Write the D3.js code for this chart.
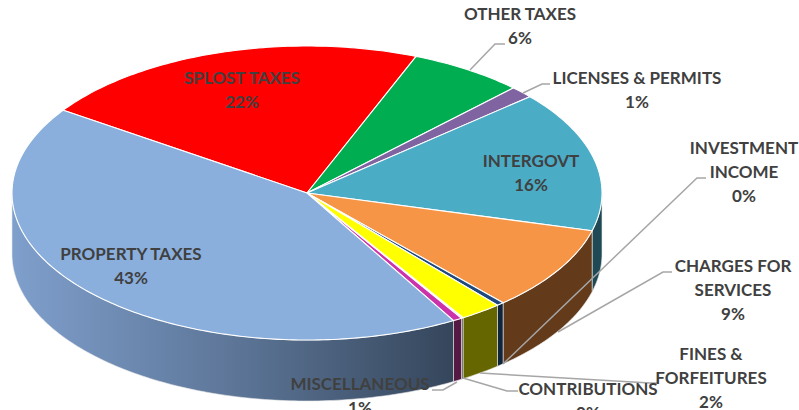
<!DOCTYPE html>
<html><head><meta charset="utf-8">
<script src="https://cdnjs.cloudflare.com/ajax/libs/d3/7.8.5/d3.min.js"></script>
<style>html,body{margin:0;padding:0;background:#fff;overflow:hidden}svg{display:block}
text{font-family:Lato,"Open Sans",sans-serif;font-weight:700;fill:#404040;font-size:17px}</style>
</head><body><svg id="c" width="799" height="410"></svg>
<script>
const categories=["SPLOST TAXES","OTHER TAXES","LICENSES & PERMITS","INTERGOVT","CHARGES FOR SERVICES","INVESTMENT INCOME","FINES & FORFEITURES","CONTRIBUTIONS","MISCELLANEOUS","PROPERTY TAXES"];
const shares=[21.5,6.3,1.3,15.5,9.3,0.4,2.3,0.1,0.5,42.8];
const percentLabels=["22%","6%","1%","16%","9%","0%","2%","0%","1%","43%"];
const topColors=["#ff0000","#00ad50","#8064a2","#4bacc6","#f69545","#1f497d","#ffff00","#7f7f7f","#cc33aa","#8aafdd"];
const sideColors=["#990000","#006830","#4d3c61","#1f4a55","#633a1a","#10243c","#666600","#555555","#551a44","url(#propSide)"];
const labelLines=[["SPLOST TAXES"],["OTHER TAXES"],["LICENSES & PERMITS"],["INTERGOVT"],["CHARGES FOR","SERVICES"],["INVESTMENT","INCOME"],["FINES &","FORFEITURES"],["CONTRIBUTIONS"],["MISCELLANEOUS"],["PROPERTY TAXES"]];
const labelCentres=[[242,91],[520,27],[637,91],[531,174],[733,291],[744,173],[711,379],[588,402],[360,397],[131,267]];
const leaders=[null,[[470,70],[495,44],[505,44]],[[523,93],[542,84],[550,84]],null,[[558,332],[663,272],[672,272]],[[503,364],[697,178],[706,178]],[[480,373],[650,383],[657,383]],[[463,378],[507,391],[518,391]],[[457,382],[443,390],[432,390]],null];

const svg=d3.select("#c");
const cx=307,cy=193,rx=295,ry=147,depth=61;
const px=d3.scaleLinear().domain([-1,1]).range([cx-rx,cx+rx]);
const py=d3.scaleLinear().domain([-1,1]).range([cy-ry,cy+ry]);
const pie=d3.pie().value(d=>d).sort(null).startAngle(-55.7*Math.PI/180).endAngle((360-55.7)*Math.PI/180);
const arcs=pie(shares);

const defs=svg.append("defs");
const g=defs.append("linearGradient").attr("id","propSide").attr("gradientUnits","userSpaceOnUse")
 .attr("x1",px(-1)).attr("x2",454).attr("y1",0).attr("y2",0);
g.append("stop").attr("offset",0).attr("stop-color","#7f9fcc");
g.append("stop").attr("offset",.5).attr("stop-color","#5d7698");
g.append("stop").attr("offset",1).attr("stop-color","#35465b");

const pt=(a,dy=0)=>[px(Math.sin(a)),py(-Math.cos(a))+dy];
const rim=(a0,a1,dy)=>{const n=Math.max(2,Math.ceil(Math.abs(a1-a0)*60));return d3.range(n+1).map(i=>pt(a0+(a1-a0)*i/n,dy));};
const line=d3.line();
const PI=Math.PI;

const sides=svg.append("g");
arcs.forEach((d,i)=>{
  [[d.startAngle,d.endAngle],[d.startAngle-2*PI,d.endAngle-2*PI]].forEach(([s,e])=>{
    const a0=Math.max(s,PI/2),a1=Math.min(e,3*PI/2);
    if(a1<=a0)return;
    const pts=rim(a0,a1,0).concat(rim(a1,a0,depth));
    sides.append("path").attr("d",line(pts)+"Z").attr("fill",sideColors[i])
      .attr("stroke","#e8e8e8").attr("stroke-width",.8).attr("stroke-opacity",.75);
  });
});
const tops=svg.append("g");
arcs.forEach((d,i)=>{
  const pts=[[cx,cy]].concat(rim(d.startAngle,d.endAngle,0));
  tops.append("path").attr("d",line(pts)+"Z").attr("fill",topColors[i]).attr("stroke","#fff").attr("stroke-width",1.1).attr("stroke-linejoin","round");
});
const lg=svg.append("g");
leaders.forEach(l=>{if(l)lg.append("path").attr("d",line(l)).attr("fill","none").attr("stroke","#a6a6a6").attr("stroke-width",1.5);});
const lh=24;
labelLines.forEach((ls,i)=>{
  const all=ls.concat([percentLabels[i]]);
  const [x,y]=labelCentres[i];
  const t=svg.append("text").attr("text-anchor","middle");
  all.forEach((s,k)=>t.append("tspan").attr("x",x).attr("y",y+(k-(all.length-1)/2)*lh+5).text(s));
});
</script></body></html>
